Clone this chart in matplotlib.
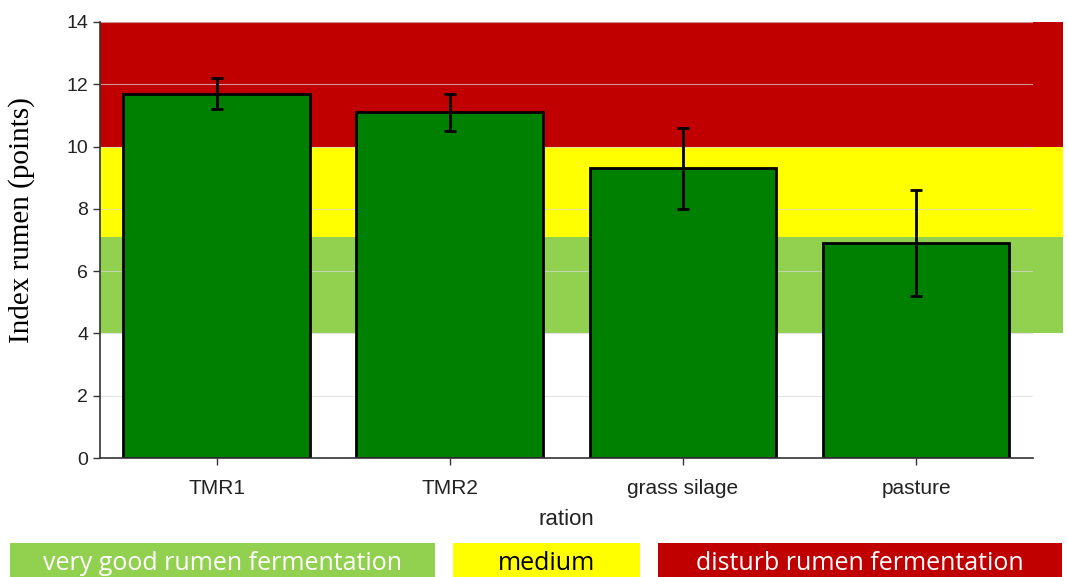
import matplotlib.pyplot as plt
from matplotlib.patches import Rectangle
import numpy as np

# data
rations = ["TMR1", "TMR2", "grass silage", "pasture"]
index_rumen = [11.7, 11.1, 9.3, 6.9]
err_low = [11.2, 10.5, 8.0, 5.2]
err_high = [12.2, 11.7, 10.6, 8.6]
yticks = [0, 2, 4, 6, 8, 10, 12, 14]

# background bands: (low, high, colour)
bands = [(4, 7.1, "#92d050"), (7.1, 10, "#ffff00"), (10, 14, "#c00000")]
legend_labels = ["very good rumen fermentation", "medium", "disturb rumen fermentation"]

fig = plt.figure(figsize=(10.68, 5.77), dpi=100)
ax = fig.add_axes([0.0936, 0.2062, 0.8734, 0.7557])

for lo, hi, col in bands:
    ax.axhspan(lo, hi, xmin=0, xmax=1.032, color=col, lw=0, clip_on=False, zorder=0)

for y in yticks[1:]:
    ax.axhline(y, color="#d8d8d8", lw=0.8, alpha=0.7, zorder=1)

x = np.arange(len(rations))
vals = np.array(index_rumen)
yerr = [vals - np.array(err_low), np.array(err_high) - vals]
ax.bar(x, vals, width=0.8, color="#008000", edgecolor="black", linewidth=2, zorder=2)
ax.errorbar(x, vals, yerr=yerr, fmt="none", ecolor="black", elinewidth=2,
            capsize=4, capthick=2, zorder=3)

ax.set_xlim(-0.5, 3.5)
ax.set_ylim(0, 14)
ax.set_xticks(x)
ax.set_xticklabels(rations, fontsize=15, family="Liberation Sans")
ax.set_yticks(yticks)
ax.set_yticklabels([str(v) for v in yticks], fontsize=14, family="Liberation Sans")
ax.tick_params(direction="out", length=5, width=1, colors="#333333", labelcolor="#222222")
ax.tick_params(axis="x", pad=10)
for s in ["top", "right"]:
    ax.spines[s].set_visible(False)
for s in ["left", "bottom"]:
    ax.spines[s].set_linewidth(1.2)
    ax.spines[s].set_color("#333333")

ax.set_xlabel("ration", fontsize=16, family="Liberation Sans", labelpad=8, color="#222222")
ax.set_ylabel("Index rumen (points)", fontsize=21, family="Liberation Serif")
ax.yaxis.set_label_coords(-0.07, 0.546)

# legend boxes at the bottom
boxes = [(10, 435, "#92d050", "white"), (453, 640, "#ffff00", "black"),
         (658, 1062, "#c00000", "white")]
W, H = 1068, 577
for (x0, x1, col, tcol), lab in zip(boxes, legend_labels):
    fig.patches.append(Rectangle((x0 / W, 0), (x1 - x0) / W, 34 / H,
                                 transform=fig.transFigure, color=col, lw=0))
    fig.text((x0 + x1) / 2 / W, 13 / H, lab, ha="center", va="center",
             fontsize=18, color=tcol, family="Open Sans")

fig.savefig("out.png", dpi=100)
